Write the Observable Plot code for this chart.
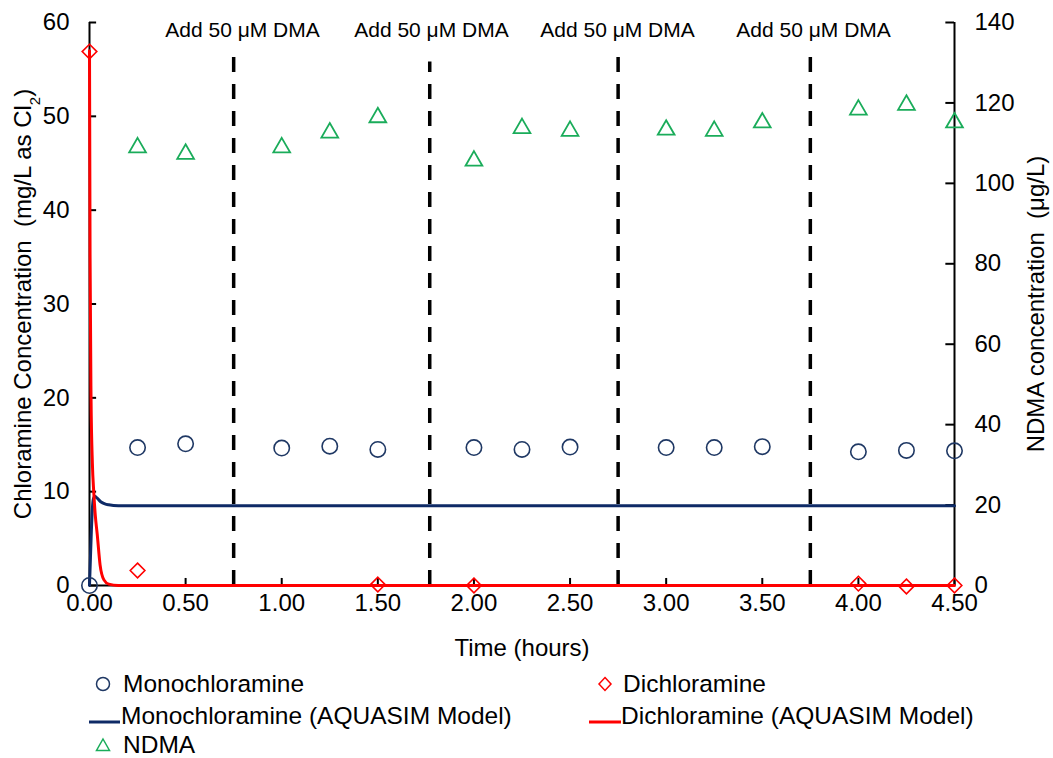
<!DOCTYPE html>
<html><head><meta charset="utf-8">
<script src="https://cdn.jsdelivr.net/npm/d3@7"></script>
<script src="https://cdn.jsdelivr.net/npm/@observablehq/plot@0.6"></script>
<style>
body{margin:0;background:#fff;font-family:"Liberation Sans",Arial,sans-serif;}
#wrap{position:relative;width:1053px;height:758px;overflow:hidden;}
.leg{position:absolute;font-size:24.5px;color:#000;white-space:nowrap;line-height:1;}
.sym{position:absolute;}
</style></head><body><div id="wrap"><div id="chart"></div></div>
<script>
// ---- data ----
const timeMono = [0,0.25,0.5,1,1.25,1.5,2,2.25,2.5,3,3.25,3.5,4,4.25,4.5];
const monoValues = [0,14.7,15.1,14.65,14.85,14.5,14.7,14.5,14.75,14.7,14.7,14.8,14.25,14.4,14.35];
const timeDi = [0,0.25,1.5,2,4,4.25,4.5];
const diValues = [56.9,1.6,0.1,0,0.2,-0.1,0];
const timeNdma = [0.25,0.5,1,1.25,1.5,2,2.25,2.5,3,3.25,3.5,4,4.25,4.5];
const ndmaValues = [108.9,107.3,108.9,112.6,116.4,105.6,113.7,113.0,113.3,113.0,115.1,118.3,119.5,115.1];
const modelMonoTime = [0,0.005,0.01,0.015,0.02,0.028,0.04,0.06,0.08,0.1,0.15,4.5];
const modelMonoValues = [0,3,6,8.2,9.2,9.5,9.3,8.9,8.7,8.6,8.5,8.5];
const modelDiTime = [0,0.003,0.008,0.015,0.022,0.03,0.04,0.055,0.075,0.1,0.15,4.5];
const modelDiValues = [57,35,20,13,10,7.5,5.5,2.2,0.6,0.15,0,0];
const dmaTimes = [0.75,1.77,2.75,3.75];
const dmaTops = [57,55.8,56.5,56.5];
const dmaLabelTimes = [0.796,1.779,2.747,3.767];
const dmaLabel = "Add 50 \u03bcM DMA";
const leftTicks = [0,10,20,30,40,50,60];
const rightTicks = [0,20,40,60,80,100,120,140];
const xTicks = [0,0.5,1,1.5,2,2.5,3,3.5,4,4.5];
const seriesNames = ["Monochloramine","Dichloramine","Monochloramine (AQUASIM Model)","Dichloramine (AQUASIM Model)","NDMA"];

// ---- derived tables ----
const leftMax = 60, rightMax = 140, k = leftMax / rightMax;
const mono = timeMono.map((t,i)=>({t, v: monoValues[i]}));
const di = timeDi.map((t,i)=>({t, v: diValues[i]}));
const ndma = timeNdma.map((t,i)=>({t, v: ndmaValues[i]}));
const mMono = modelMonoTime.map((t,i)=>({t, v: modelMonoValues[i]}));
const mDi = modelDiTime.map((t,i)=>({t, v: modelDiValues[i]}));
const dma = dmaTimes.map((t,i)=>({t, top: dmaTops[i], lt: dmaLabelTimes[i]}));

const cMono = "#1f3864", cMonoLine = "#0e2a66", cRed = "#ff0000", cGreen = "#1aac5a";
const FS = 24, FA = 21;

const chart = Plot.plot({
  width: 1053, height: 665,
  marginLeft: 89, marginRight: 99, marginTop: 22, marginBottom: 80,
  x: {domain: [0, 4.5]},
  y: {domain: [0, leftMax]},
  style: {fontFamily: "'Liberation Sans', Arial, sans-serif", fontSize: FS + "px", color: "#000", background: "#fff"},
  marks: [
    Plot.axisX({ticks: xTicks, tickFormat: d => d.toFixed(2), tickSize: 0, tickPadding: 8, fontSize: FS, label: null}),
    Plot.axisY({ticks: leftTicks, tickSize: 0, tickPadding: 20, fontSize: FS, label: null}),
    Plot.axisY({anchor: "right", ticks: rightTicks.map(d => d * k), tickFormat: d => Math.round(d / k), tickSize: 0, tickPadding: 20, fontSize: FS, label: null}),
    // dashed DMA addition lines
    Plot.ruleX(dma, {x: "t", y1: 0, y2: "top", stroke: "#000", strokeWidth: 3.5, strokeDasharray: "15,12"}),
    Plot.text(dma, {x: "lt", y: leftMax, dy: 8, text: () => dmaLabel, fontSize: FA, fill: "#000"}),
    // axis frame lines and inward ticks
    Plot.ruleY([0], {x1: 0, x2: 4.5, stroke: "#000", strokeWidth: 2}),
    Plot.ruleX([0, 4.5], {y1: 0, y2: leftMax, stroke: "#000", strokeWidth: 2}),
    Plot.ruleY(leftTicks, {y: d => d, x1: 0, x2: 0.037, stroke: "#000", strokeWidth: 2}),
    Plot.ruleY(rightTicks, {y: d => d * k, x1: 4.5 - 0.045, x2: 4.5, stroke: "#000", strokeWidth: 2}),
    Plot.ruleX(xTicks, {x: d => d, y1: 0, y2: 0.75, stroke: "#000", strokeWidth: 2}),
    // models
    Plot.line(mMono, {x: "t", y: "v", stroke: cMonoLine, strokeWidth: 3, curve: "monotone-x"}),
    Plot.line(mDi, {x: "t", y: "v", stroke: cRed, strokeWidth: 3, curve: "monotone-x"}),
    // measurements
    Plot.dot(ndma, {x: "t", y: d => d.v * k, symbol: "triangle2", r: 8, stroke: cGreen, strokeWidth: 1.8, fill: "none"}),
    Plot.dot(mono, {x: "t", y: "v", symbol: "circle", r: 7.7, stroke: cMono, strokeWidth: 1.6, fill: "none"}),
    Plot.dot(di, {x: "t", y: "v", symbol: "diamond2", r: 6.6, stroke: cRed, strokeWidth: 1.6, fill: "none"}),
    // axis titles
    Plot.text(["Time (hours)"], {frameAnchor: "bottom", dy: 63, textAnchor: "middle", lineAnchor: "middle", fontSize: FS, fill: "#000"}),
    Plot.text(["LEFTTITLE"], {frameAnchor: "left", dx: -66, rotate: -90, textAnchor: "middle", lineAnchor: "middle", fontSize: FS, fill: "#000"}),
    Plot.text(["NDMA concentration  (\u03bcg/L)"], {frameAnchor: "right", dx: 82, rotate: -90, textAnchor: "middle", lineAnchor: "middle", fontSize: FS, fill: "#000"})
  ]
});
document.getElementById("chart").appendChild(chart);

// subscript in the left title
d3.select(chart).selectAll("text").filter(function(){ return this.textContent === "LEFTTITLE"; })
  .each(function(){
    const t = d3.select(this);
    t.text(null).attr("xml:space", "preserve");
    t.append("tspan").text("Chloramine Concentration  (mg/L as Cl");
    t.append("tspan").attr("baseline-shift", "sub").attr("font-size", "15px").text("2");
    t.append("tspan").text(")");
  });

// ---- legend below the SVG ----
const wrap = document.getElementById("wrap");
function addSym(svgInner, left, top, w, h){
  const d = document.createElement("div");
  d.className = "sym"; d.style.left = left + "px"; d.style.top = top + "px";
  d.innerHTML = `<svg width="${w}" height="${h}" viewBox="0 0 ${w} ${h}">${svgInner}</svg>`;
  wrap.appendChild(d);
}
function addText(txt, left, cy){
  const d = document.createElement("div");
  d.className = "leg"; d.textContent = txt;
  d.style.left = left + "px"; d.style.top = (cy - 12) + "px";
  wrap.appendChild(d);
}
const rows = [684, 716, 745];
addSym(`<circle cx="8" cy="8" r="6.5" fill="none" stroke="${cMono}" stroke-width="1.5"/>`, 95, rows[0] - 8, 16, 16);
addText(seriesNames[0], 123, rows[0]);
addSym(`<path d="M8,1.5 L14,8 L8,14.5 L2,8Z" fill="none" stroke="${cRed}" stroke-width="1.5"/>`, 597, rows[0] - 8, 16, 16);
addText(seriesNames[1], 623, rows[0]);
addSym(`<line x1="0" y1="4" x2="31" y2="4" stroke="${cMonoLine}" stroke-width="3"/>`, 89, rows[1] - 4, 31, 8);
addText(seriesNames[2], 121, rows[1]);
addSym(`<line x1="0" y1="4" x2="32" y2="4" stroke="${cRed}" stroke-width="3"/>`, 589, rows[1] - 4, 32, 8);
addText(seriesNames[3], 621, rows[1]);
addSym(`<path d="M8,2 L14.5,13.5 L1.5,13.5Z" fill="none" stroke="${cGreen}" stroke-width="1.5"/>`, 95, rows[2] - 8, 16, 16);
addText(seriesNames[4], 123, rows[2]);
</script></body></html>
